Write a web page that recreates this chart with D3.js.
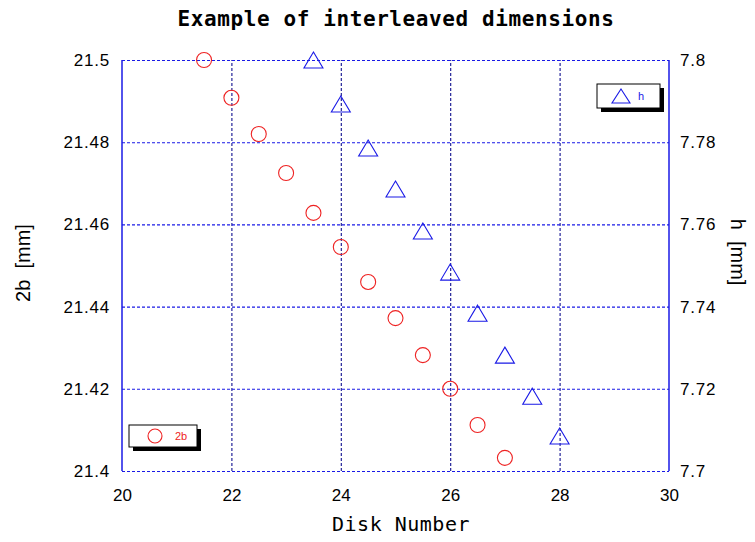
<!DOCTYPE html>
<html>
<head>
<meta charset="utf-8">
<script src="https://cdn.jsdelivr.net/npm/d3@7"></script>
<style>
  body { margin: 0; background: #fff; }
  text { white-space: pre; }
</style>
</head>
<body>
<div id="chart"></div>
<script>
// disk numbers and values
const diskB = [21.5, 22, 22.5, 23, 23.5, 24, 24.5, 25, 25.5, 26, 26.5, 27];
const valB = [21.5, 21.4908, 21.482, 21.4725, 21.4628, 21.4545, 21.446, 21.4372, 21.4282, 21.42, 21.4112, 21.4032];
const diskH = [23.5, 24, 24.5, 25, 25.5, 26, 26.5, 27, 27.5, 28];
const valH = [7.8, 7.7893, 7.7786, 7.7686, 7.7584, 7.7484, 7.7384, 7.7282, 7.7182, 7.7085];
const xTicks = [20, 22, 24, 26, 28, 30];
const leftTicks = [21.4, 21.42, 21.44, 21.46, 21.48, 21.5];
const rightTicks = [7.7, 7.72, 7.74, 7.76, 7.78, 7.8];

const width = 755, height = 542;
const margin = {top: 60, right: 86, bottom: 71, left: 122};
const w = width - margin.left - margin.right;
const h = height - margin.top - margin.bottom;

const blue = '#1a1ae6', red = '#ee2222';
const fmt = d3.format('.2~f');

const svg = d3.select('#chart').append('svg')
    .attr('width', width)
    .attr('height', height)
    .style('font-family', '"Liberation Sans", Arial, sans-serif');

const g = svg.append('g')
    .attr('transform', `translate(${margin.left},${margin.top})`);

const x = d3.scaleLinear().domain([20, 30]).range([0, w]);
const yL = d3.scaleLinear().domain([21.4, 21.5]).range([h, 0]);
const yR = d3.scaleLinear().domain([7.7, 7.8]).range([h, 0]);

// dashed grid
g.append('g')
    .attr('transform', `translate(0,${h})`)
    .call(d3.axisBottom(x).tickValues(xTicks.slice(1, -1)).tickSize(-h).tickFormat(''))
    .call(a => a.select('.domain').remove())
    .selectAll('line')
    .attr('stroke', '#101090')
    .attr('stroke-width', 1.1)
    .attr('stroke-dasharray', '3,2');

g.append('g')
    .call(d3.axisLeft(yL).tickValues(leftTicks).tickSize(-w).tickFormat(''))
    .call(a => a.select('.domain').remove())
    .selectAll('line')
    .attr('stroke', blue)
    .attr('stroke-width', 1.1)
    .attr('stroke-dasharray', '3,2');

// solid side borders
g.append('line').attr('x1', 0).attr('x2', 0).attr('y1', 0).attr('y2', h)
    .attr('stroke', blue).attr('stroke-width', 1.5);
g.append('line').attr('x1', w).attr('x2', w).attr('y1', 0).attr('y2', h)
    .attr('stroke', blue).attr('stroke-width', 1.5);

// tick labels
g.append('g')
    .attr('transform', `translate(0,${h})`)
    .call(d3.axisBottom(x).tickValues(xTicks).tickSize(0).tickPadding(18).tickFormat(d3.format('d')))
    .call(a => a.select('.domain').remove())
    .selectAll('text')
    .style('font-family', '"Liberation Sans", Arial, sans-serif')
    .style('font-size', '17px')
    .style('fill', '#000');

g.append('g')
    .call(d3.axisLeft(yL).tickValues(leftTicks).tickSize(0).tickPadding(12).tickFormat(fmt))
    .call(a => a.select('.domain').remove())
    .selectAll('text')
    .style('font-family', '"Liberation Sans", Arial, sans-serif')
    .style('font-size', '17px')
    .style('letter-spacing', '0.8px')
    .style('fill', '#000');

g.append('g')
    .attr('transform', `translate(${w},0)`)
    .call(d3.axisRight(yR).tickValues(rightTicks).tickSize(0).tickPadding(11).tickFormat(fmt))
    .call(a => a.select('.domain').remove())
    .selectAll('text')
    .style('font-family', '"Liberation Sans", Arial, sans-serif')
    .style('font-size', '17px')
    .style('letter-spacing', '0.8px')
    .style('fill', '#000');

// 2b circles
g.selectAll('.b')
    .data(diskB.map((d, i) => ({x: d, y: valB[i]})))
    .enter().append('circle')
    .attr('class', 'b')
    .attr('cx', d => x(d.x))
    .attr('cy', d => yL(d.y))
    .attr('r', 7.5)
    .attr('fill', 'none')
    .attr('stroke', red)
    .attr('stroke-width', 1.1);

// h triangles
const tri = 'M0,-8L9.5,8L-9.5,8Z';
g.selectAll('.h')
    .data(diskH.map((d, i) => ({x: d, y: valH[i]})))
    .enter().append('path')
    .attr('class', 'h')
    .attr('transform', d => `translate(${x(d.x)},${yR(d.y)})`)
    .attr('d', tri)
    .attr('fill', 'none')
    .attr('stroke', blue)
    .attr('stroke-width', 1.1);

// legends
function legend(x0, y0, bw, bh, color, label, marker) {
    const lg = svg.append('g').attr('transform', `translate(${x0},${y0})`);
    lg.append('rect').attr('x', 4).attr('y', 4).attr('width', bw).attr('height', bh).attr('fill', '#000');
    lg.append('rect').attr('width', bw).attr('height', bh).attr('fill', '#fff').attr('stroke', '#000');
    marker(lg);
    lg.append('text')
        .attr('x', bw - 22).attr('y', bh / 2 + 4)
        .style('font-size', '11px')
        .style('fill', color)
        .text(label);
}

legend(129, 425, 68, 22, red, '2b', lg => lg.append('circle')
    .attr('cx', 26).attr('cy', 11).attr('r', 7)
    .attr('fill', 'none').attr('stroke', red).attr('stroke-width', 1.1));

legend(597, 84, 63, 24, blue, 'h', lg => lg.append('path')
    .attr('transform', 'translate(24,12)')
    .attr('d', 'M0,-7L9,7L-9,7Z')
    .attr('fill', 'none').attr('stroke', blue).attr('stroke-width', 1.1));

// titles
svg.append('text')
    .attr('x', 396).attr('y', 26)
    .attr('text-anchor', 'middle')
    .style('font-family', '"DejaVu Sans Mono", monospace')
    .style('font-weight', 'bold')
    .style('font-size', '21px')
    .style('letter-spacing', '0.6px')
    .text('Example of interleaved dimensions');

svg.append('text')
    .attr('x', 401).attr('y', 531)
    .attr('text-anchor', 'middle')
    .style('font-family', '"DejaVu Sans Mono", monospace')
    .style('font-size', '20px')
    .style('letter-spacing', '0.5px')
    .text('Disk Number');

svg.append('text')
    .attr('transform', 'translate(30,263) rotate(-90)')
    .attr('text-anchor', 'middle')
    .style('font-size', '20px')
    .text('2b  [mm]');

svg.append('text')
    .attr('transform', 'translate(731,252) rotate(90)')
    .attr('text-anchor', 'middle')
    .style('font-size', '20px')
    .text('h  [mm]');
</script>
</body>
</html>
